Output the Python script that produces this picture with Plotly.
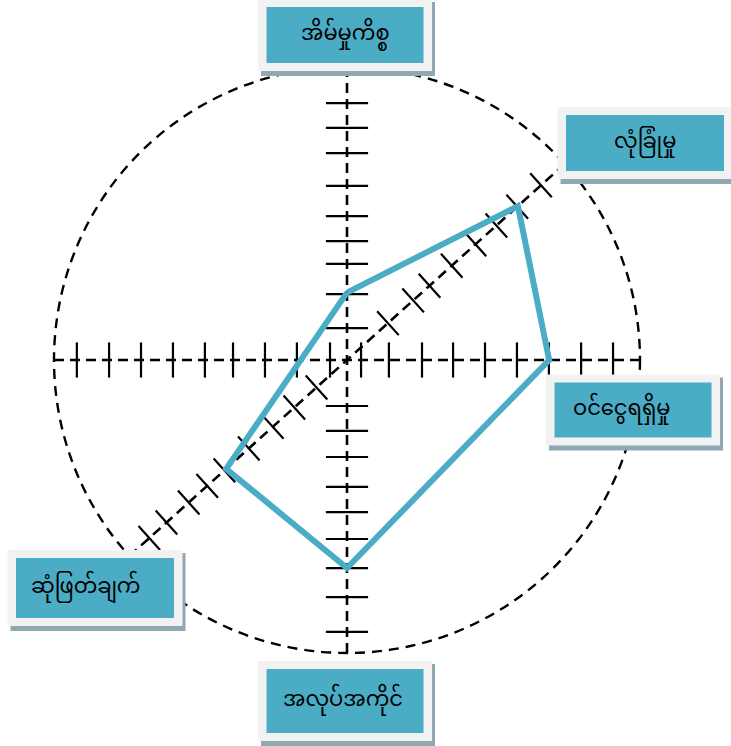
import numpy as np
import plotly.graph_objects as go

W, H = 731, 746
PX = 29.3          # pixels per radar unit
CX, CY = 347, 360  # centre of the radar in page pixels

# five labelled directions (degrees) and their values
categories = ['အိမ်မှုကိစ္စ', 'လုံခြုံမှု', 'ဝင်ငွေရရှိမှု', 'အလုပ်အကိုင်', 'ဆုံဖြတ်ချက်']
angles = [90, 42, 0, 270, 222]
values = [2.3, 7.85, 6.9, 7.1, 5.55]
radius = 10

# tick positions along each half axis (radar units)
ticks_right = [0.48, 1.43, 2.56, 3.62, 4.71, 5.80, 6.89, 7.99, 9.08]
ticks_left = [0.58, 1.71, 2.80, 3.89, 4.85, 5.94, 7.03, 8.12, 9.22]
ticks_up = [1.09, 2.25, 3.28, 4.06, 4.91, 5.94, 7.06, 7.92, 8.77]
ticks_down = [1.57, 2.42, 3.31, 4.33, 5.19, 6.11, 7.10, 8.09, 9.28]
ticks_ne = [1.88, 3.04, 3.79, 4.81, 5.90, 6.86, 7.82, 8.91]
ticks_sw = [1.40, 2.42, 3.41, 4.51, 5.63, 6.42, 7.27, 8.29, 9.08]

teal = '#4BACC6'


def polar(r, deg):
    a = np.deg2rad(deg)
    return r * np.cos(a), r * np.sin(a)


fig = go.Figure()

# dashed axes through the centre
axis_x, axis_y = [], []
for deg in [0, 90, 42]:
    x0, y0 = polar(radius, deg)
    axis_x += [-x0, x0, None]
    axis_y += [-y0, y0, None]
fig.add_trace(go.Scatter(x=axis_x, y=axis_y, mode='lines', hoverinfo='skip',
                         line=dict(color='black', width=2.6, dash='10px,6px')))

# tick marks, perpendicular to their axis
tx, ty = [], []
for deg, ticks, half in [(0, ticks_right, 0.6), (180, ticks_left, 0.6),
                         (90, ticks_up, 0.72), (270, ticks_down, 0.72),
                         (42, ticks_ne, 0.55), (222, ticks_sw, 0.55)]:
    a = np.deg2rad(deg)
    nx, ny = -np.sin(a), np.cos(a)
    for t in ticks:
        x, y = t * np.cos(a), t * np.sin(a)
        tx += [x - half * nx, x + half * nx, None]
        ty += [y - half * ny, y + half * ny, None]
fig.add_trace(go.Scatter(x=tx, y=ty, mode='lines', hoverinfo='skip',
                         line=dict(color='black', width=2.2)))

# the data polygon
pts = [polar(v, a) for v, a in zip(values, angles)]
poly_x = [p[0] for p in pts] + [pts[0][0]]
poly_y = [p[1] for p in pts] + [pts[0][1]]
fig.add_trace(go.Scatter(x=poly_x, y=poly_y, mode='lines', hoverinfo='skip',
                         line=dict(color=teal, width=6)))

# dashed outer circle
fig.add_shape(type='circle', xref='x', yref='y', x0=-radius, y0=-radius,
              x1=radius, y1=radius, layer='below',
              line=dict(color='black', width=2.4, dash='10px,7px'))

# label boxes: centre (page px), inner width/height, text x offset
# same order as categories
boxes = [
    (345, 35, 157, 56, 0),
    (645, 143, 158, 56, 0),
    (633, 410, 157, 55, -12),
    (345, 701, 157, 64, -2),
    (95, 588, 158, 60, -10),
]


def fx(p):
    return p / W


def fy(p):
    return 1 - p / H


for (bx, by, bw, bh, dx), label in zip(boxes, categories):
    ow, oh = bw + 17, bh + 16
    fig.add_shape(type='rect', xref='paper', yref='paper', line_width=0,
                  fillcolor='#8FA8B2',
                  x0=fx(bx - ow / 2 + 3), x1=fx(bx + ow / 2 + 3),
                  y0=fy(by + oh / 2 + 5), y1=fy(by - oh / 2 + 3))
    fig.add_shape(type='rect', xref='paper', yref='paper', line_width=0,
                  fillcolor='#F2F2F2',
                  x0=fx(bx - ow / 2), x1=fx(bx + ow / 2),
                  y0=fy(by + oh / 2), y1=fy(by - oh / 2))
    fig.add_shape(type='rect', xref='paper', yref='paper', line_width=0,
                  fillcolor=teal,
                  x0=fx(bx - bw / 2), x1=fx(bx + bw / 2),
                  y0=fy(by + bh / 2), y1=fy(by - bh / 2))
    fig.add_annotation(x=fx(bx + dx), y=fy(by), xref='paper', yref='paper',
                       xanchor='center', yanchor='middle',
                       text=label, showarrow=False,
                       font=dict(size=21, color='black'))

fig.update_layout(
    width=W, height=H,
    margin=dict(l=0, r=0, t=0, b=0),
    paper_bgcolor='white', plot_bgcolor='white',
    showlegend=False,
    font=dict(family='Noto Sans Myanmar, Padauk, Myanmar Text, Noto Sans, sans-serif'),
    xaxis=dict(range=[-CX / PX, (W - CX) / PX], visible=False, fixedrange=True),
    yaxis=dict(range=[-(H - CY) / PX, CY / PX], visible=False, fixedrange=True),
)

fig.write_html('out.html', config={'displayModeBar': False},
               post_script="document.body.style.margin='0';")
